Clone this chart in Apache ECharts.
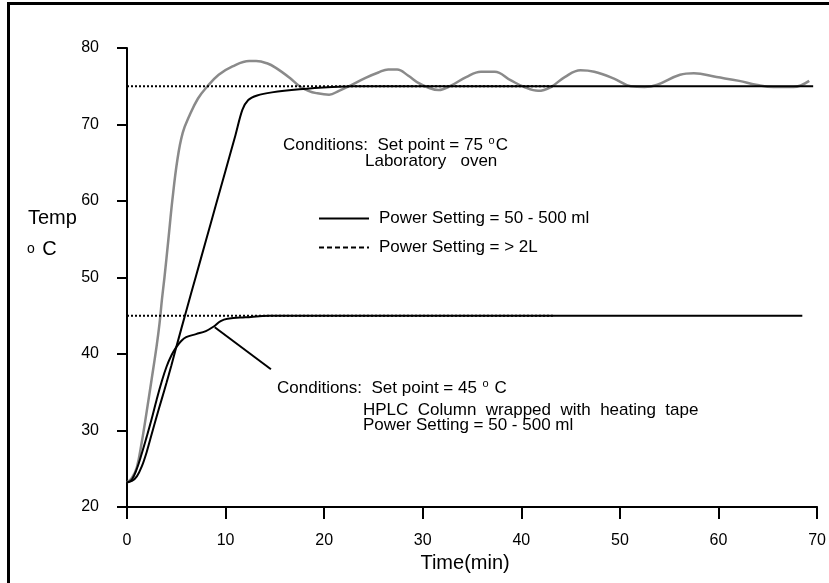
<!DOCTYPE html>
<html>
<head>
<meta charset="utf-8">
<script src="https://cdn.jsdelivr.net/npm/echarts@6/dist/echarts.min.js"></script>
<style>
html,body{margin:0;padding:0;background:#fff;}
#chart{width:829px;height:583px;}
</style>
</head>
<body>
<div id="chart"></div>
<script>
// ---- data (time in min, temperature in °C) ----
var xTicks = [0, 10, 20, 30, 40, 50, 60, 70];
var yTicks = [20, 30, 40, 50, 60, 70, 80];

var ovenGray = [[0,23.2],[0.5,23.8],[1,25.2],[1.5,28.5],[2,32.5],[2.5,36.7],[3,41],[3.3,44],[3.55,47.2],[3.8,50],[4.2,55],[4.6,60.1],[5.1,65.3],[5.65,68.9],[6.35,71.2],[7.2,73.4],[8.1,74.9],[9.3,76.5],[10.7,77.6],[12.4,78.3],[13.1,78.3],[14.2,78],[15.1,77.4],[16.5,76.1],[17.5,75],[18.4,74.4],[19.2,74.1],[20.5,73.9],[21.5,74.4],[22.5,75],[24.2,76.1],[25.5,76.8],[26.5,77.2],[27.4,77.2],[28.5,76.4],[29.6,75.4],[30.6,74.8],[31.6,74.5],[32.9,75.1],[34.4,76.2],[35.9,76.9],[37.3,76.9],[38.9,75.8],[40.3,74.9],[41.7,74.4],[43,74.9],[44.4,76.2],[46,77.1],[47.4,76.9],[49.4,76],[51.1,75],[52.5,74.9],[53.8,75.2],[56.1,76.5],[57.5,76.7],[59.8,76.2],[62.1,75.7],[63.8,75.2],[65.6,74.9],[67.6,74.9],[69.2,75.7]];

var oven75 = [[0,23.2],[0.5,23.4],[1,24.0],[1.5,25.3],[2,27.2],[2.5,29.5],[3,31.8],[3.5,34.0],[4,36.2],[4.5,38.5],[5,40.9],[6,45.6],[7,50.2],[8,54.8],[9,59.4],[10,64.0],[11,68.6],[11.7,71.9],[12.3,73.2],[13.2,73.8],[14.7,74.2],[17.5,74.6],[20.8,74.9],[23,75],[69.6,75]];

var column45 = [[0,23.2],[0.5,23.6],[1,25.0],[1.5,27.0],[2,29.2],[2.5,31.5],[3,34.0],[3.5,36.3],[4,38.3],[4.5,39.8],[5,40.9],[5.5,41.7],[6,42.2],[7,42.6],[8,43.0],[8.8,43.6],[9.5,44.3],[10.2,44.6],[12,44.8],[14.5,45],[68.5,45]];

var setPoint75 = [[0,75],[43.2,75]];
var setPoint45 = [[0,45],[43.2,45]];
var pointer = [[8.9,43.5],[14.6,38.0]];

var legendSolid = 'Power Setting = 50 - 500 ml';
var legendDotted = 'Power Setting = > 2L';

var FONT = "'Liberation Sans', Arial, sans-serif";

var chart = echarts.init(document.getElementById('chart'));
var sup = {s: {fontSize: 11, fontFamily: FONT, fill: '#000', verticalAlign: 'top', padding: [0, 1, 8, 1]}};

chart.setOption({
  animation: false,
  backgroundColor: '#fff',
  grid: {left: 127, right: 8, top: 48, bottom: 76, containLabel: false},
  xAxis: {
    type: 'value', min: 0, max: 70, interval: 10,
    name: 'Time(min)', nameLocation: 'middle', nameGap: 33,
    nameTextStyle: {fontFamily: FONT, fontSize: 20, color: '#000', padding: [0, 14, 0, 0]},
    axisLine: {show: true, lineStyle: {color: '#000', width: 2}},
    axisTick: {show: true, length: 12, lineStyle: {color: '#000', width: 2}},
    axisLabel: {margin: 26, fontFamily: FONT, fontSize: 16, color: '#000',
      formatter: function (v) { return xTicks.indexOf(v) >= 0 ? String(v) : ''; }},
    splitLine: {show: false}
  },
  yAxis: {
    type: 'value', min: 20, max: 80, interval: 10,
    axisLine: {show: true, lineStyle: {color: '#000', width: 2}},
    axisTick: {show: true, length: 10, lineStyle: {color: '#000', width: 2}},
    axisLabel: {margin: 28, fontFamily: FONT, fontSize: 16, color: '#000',
      formatter: function (v) { return yTicks.indexOf(v) >= 0 ? String(v) : ''; }},
    splitLine: {show: false}
  },
  legend: {
    orient: 'vertical', left: 318, top: 210, padding: 0,
    itemWidth: 50, itemHeight: 14, itemGap: 12,
    textStyle: {fontFamily: FONT, fontSize: 17, color: '#000', padding: [0, 0, 0, 5]},
    data: [
      {name: legendSolid, itemStyle: {opacity: 0}, lineStyle: {type: 'solid', width: 2, color: '#000'}},
      {name: legendDotted, itemStyle: {opacity: 0}, lineStyle: {type: [5, 3], width: 2, color: '#000'}}
    ],
    selectedMode: false
  },
  series: [
    {name: 'Oven', type: 'line', data: ovenGray, symbol: 'none', smooth: 0.4,
      lineStyle: {color: '#8a8a8a', width: 2.5}, z: 2},
    {name: legendSolid, type: 'line', data: oven75, symbol: 'none', smooth: 0.3,
      lineStyle: {color: '#000', width: 2}, itemStyle: {color: '#000'}, z: 3},
    {name: legendSolid, type: 'line', data: column45, symbol: 'none', smooth: 0.4,
      lineStyle: {color: '#000', width: 2}, itemStyle: {color: '#000'}, z: 3},
    {name: legendDotted, type: 'line', data: setPoint75, symbol: 'none',
      lineStyle: {color: '#000', width: 2, type: [2, 2]}, itemStyle: {color: '#000'}, z: 4},
    {name: legendDotted, type: 'line', data: setPoint45, symbol: 'none',
      lineStyle: {color: '#000', width: 2, type: [2, 2]}, itemStyle: {color: '#000'}, z: 4},
    {name: 'pointer', type: 'line', data: pointer, symbol: 'none',
      lineStyle: {color: '#000', width: 2}, z: 4}
  ],
  graphic: [
    {type: 'line', shape: {x1: 8, y1: 3.5, x2: 829, y2: 3.5}, style: {stroke: '#000', lineWidth: 3}},
    {type: 'line', shape: {x1: 8.5, y1: 2, x2: 8.5, y2: 583}, style: {stroke: '#000', lineWidth: 3}},
    {type: 'text', x: 28, y: 218, style: {text: 'Temp', fontFamily: FONT, fontSize: 20, fill: '#000', verticalAlign: 'middle'}},
    {type: 'text', x: 27, y: 249, style: {text: '{o|o} C', rich: {o: {fontSize: 14, fontFamily: FONT, fill: '#000', padding: [0, 2, 0, 0]}}, fontFamily: FONT, fontSize: 20, fill: '#000', verticalAlign: 'middle'}},
    {type: 'text', x: 283, y: 145, style: {text: 'Conditions:  Set point = 75 {s|o}C', rich: sup, fontFamily: FONT, fontSize: 17, fill: '#000', verticalAlign: 'middle'}},
    {type: 'text', x: 365, y: 161, style: {text: 'Laboratory   oven', fontFamily: FONT, fontSize: 17, fill: '#000', verticalAlign: 'middle'}},
    {type: 'text', x: 277, y: 388, style: {text: 'Conditions:  Set point = 45 {s|o} C', rich: sup, fontFamily: FONT, fontSize: 17, fill: '#000', verticalAlign: 'middle'}},
    {type: 'text', x: 363, y: 410, style: {text: 'HPLC  Column  wrapped  with  heating  tape', fontFamily: FONT, fontSize: 17, fill: '#000', verticalAlign: 'middle'}},
    {type: 'text', x: 363, y: 425, style: {text: 'Power Setting = 50 - 500 ml', fontFamily: FONT, fontSize: 17, fill: '#000', verticalAlign: 'middle'}}
  ]
});
</script>
</body>
</html>
